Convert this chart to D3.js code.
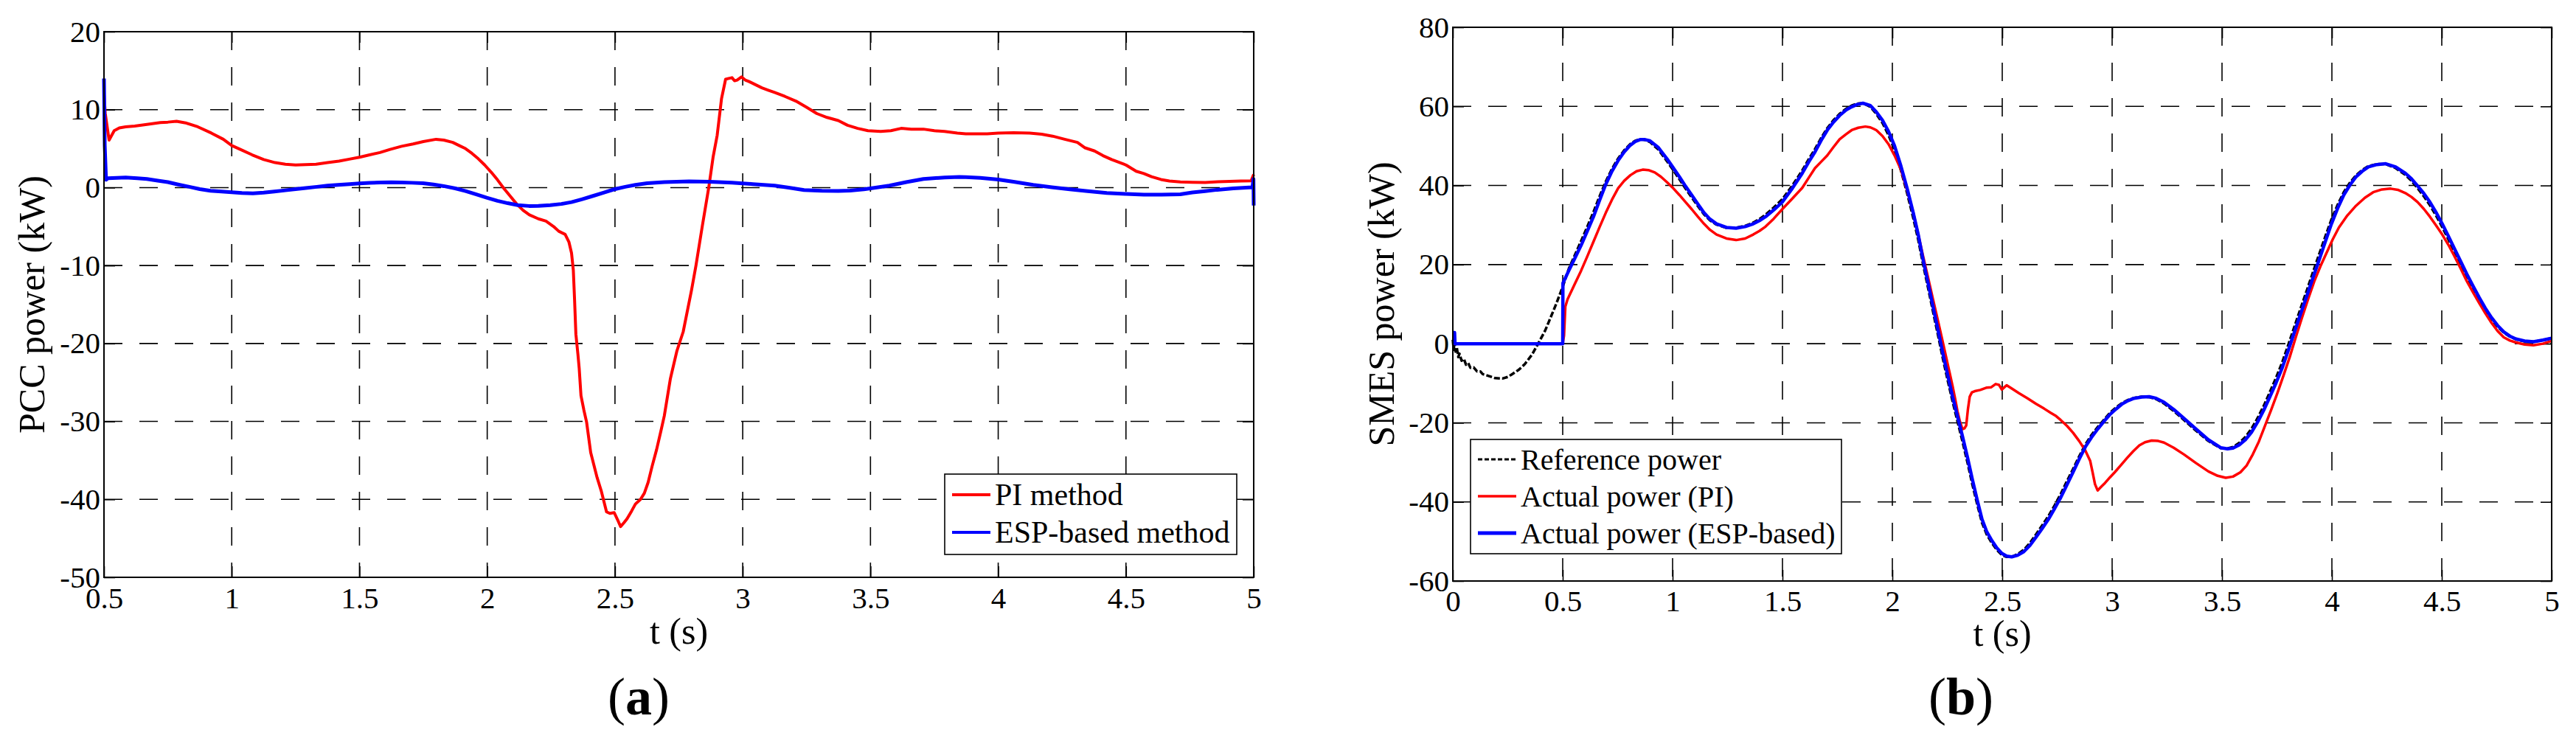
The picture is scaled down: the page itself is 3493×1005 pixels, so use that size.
<!DOCTYPE html>
<html lang="en">
<head>
    <meta charset="UTF-8"/>
    <title>PCC / SMES power</title>
    <script src="https://d3js.org/d3.v7.min.js"></script>
    <style>
        body { margin: 0; background: #fff; }
        text { font-family: "Liberation Serif", "Times New Roman", serif; fill: #000; }
        .grid line { stroke: #000; stroke-width: 1.6px; stroke-dasharray: 25,23; }
        .axis path { display: none; }
        .axis line { stroke: #000; stroke-width: 1.6px; }
        .axis text { font-size: 41px; }
    </style>
</head>
<body>
<div id="chart"></div>
<script>
    // ---- data, panel (a): PCC power ----
    const xTicksA = [0.5, 1, 1.5, 2, 2.5, 3, 3.5, 4, 4.5, 5];
    const yTicksA = [-50, -40, -30, -20, -10, 0, 10, 20];

    const piTimeA = [0.5, 0.505, 0.52, 0.54, 0.56, 0.585, 0.62, 0.668, 0.72, 0.75, 0.784, 0.82, 0.867, 0.92, 0.967,
        1.0, 1.04, 1.08, 1.125, 1.17, 1.21, 1.25, 1.29, 1.33, 1.375, 1.42, 1.46, 1.5, 1.54, 1.58, 1.62, 1.665,
        1.71, 1.75, 1.8, 1.83, 1.865, 1.89, 1.915, 1.94, 1.965, 1.99, 2.015, 2.04, 2.065, 2.09, 2.115, 2.14,
        2.165, 2.2, 2.23, 2.26, 2.28, 2.305, 2.32, 2.33, 2.337, 2.342, 2.347, 2.355, 2.36, 2.367, 2.378, 2.389,
        2.405, 2.43, 2.447, 2.467, 2.48, 2.497, 2.51, 2.522, 2.535, 2.547, 2.565, 2.58, 2.6, 2.615, 2.63, 2.645,
        2.663, 2.68, 2.693, 2.717, 2.742, 2.767, 2.8, 2.817, 2.842, 2.867, 2.884, 2.9, 2.917, 2.933, 2.945,
        2.958, 2.968, 2.978, 2.995, 3.01, 3.025, 3.05, 3.075, 3.1, 3.125, 3.165, 3.208, 3.25, 3.29, 3.33,
        3.374, 3.41, 3.45, 3.49, 3.54, 3.58, 3.62, 3.66, 3.707, 3.75, 3.79, 3.84, 3.873, 3.957, 4.0, 4.06,
        4.123, 4.17, 4.213, 4.26, 4.31, 4.34, 4.377, 4.41, 4.444, 4.5, 4.54, 4.57, 4.6, 4.637, 4.67, 4.713,
        4.76, 4.81, 4.86, 4.906, 4.95, 4.99, 5.0];
    const piPowerA = [12.0, 9.5, 6.1, 7.3, 7.65, 7.8, 7.9, 8.1, 8.35, 8.4, 8.5, 8.3, 7.8, 7.0, 6.2,
        5.4, 4.8, 4.2, 3.6, 3.2, 3.0, 2.9, 2.95, 3.0, 3.2, 3.4, 3.65, 3.9, 4.2, 4.5, 4.9, 5.3,
        5.6, 5.9, 6.2, 6.1, 5.8, 5.4, 5.0, 4.4, 3.7, 2.9, 2.0, 1.0, -0.1, -1.1, -2.1, -2.9,
        -3.5, -4.0, -4.3, -5.0, -5.6, -6.0, -7.0, -8.4, -10.6, -14.5, -18.8, -21.4, -23.2, -26.7, -28.5, -30.1,
        -34.0, -37.2, -39.0, -41.6, -41.8, -41.7, -42.6, -43.5, -43.0, -42.5, -41.5, -40.6, -40.0, -39.2, -37.8, -35.8,
        -33.6, -31.2, -29.3, -24.5, -21.0, -18.5, -13.1, -10.0, -4.9, 0.0, 3.9, 6.7, 11.4, 13.9, 14.0,
        14.1, 13.7, 13.8, 14.2, 13.8, 13.6, 13.2, 12.8, 12.5, 12.2, 11.7, 11.1, 10.3, 9.5, 9.0,
        8.6, 8.0, 7.6, 7.3, 7.2, 7.3, 7.6, 7.5, 7.5, 7.3, 7.2, 7.0, 6.9, 6.9, 7.0, 7.05,
        7.0, 6.85, 6.6, 6.2, 5.8, 5.1, 4.7, 4.1, 3.6, 2.9, 2.1, 1.8, 1.4, 1.04, 0.85, 0.73,
        0.68, 0.66, 0.75, 0.79, 0.85, 0.88, 1.7];

    const espTimeA = [0.5, 0.503, 0.508, 0.515, 0.55, 0.585, 0.63, 0.668, 0.71, 0.75, 0.79, 0.834, 0.875, 0.917,
        0.96, 1.0, 1.04, 1.083, 1.125, 1.167, 1.21, 1.25, 1.29, 1.333, 1.375, 1.416, 1.46, 1.5, 1.54, 1.582,
        1.625, 1.665, 1.705, 1.749, 1.79, 1.83, 1.875, 1.915, 1.955, 1.998, 2.04, 2.08, 2.12, 2.164, 2.2,
        2.247, 2.29, 2.33, 2.37, 2.414, 2.455, 2.497, 2.54, 2.58, 2.626, 2.693, 2.79, 2.87, 2.958, 3.04,
        3.125, 3.18, 3.24, 3.31, 3.374, 3.42, 3.474, 3.52, 3.574, 3.64, 3.707, 3.79, 3.848, 3.873, 3.93,
        4.0, 4.06, 4.137, 4.21, 4.28, 4.35, 4.425, 4.5, 4.57, 4.64, 4.713, 4.76, 4.81, 4.857, 4.92,
        4.995, 4.999, 5.0];
    const espPowerA = [14.0, 5.4, 1.0, 1.2, 1.25, 1.3, 1.2, 1.1, 0.9, 0.7, 0.4, 0.1, -0.2, -0.4,
        -0.5, -0.6, -0.7, -0.75, -0.65, -0.5, -0.35, -0.2, -0.05, 0.1, 0.25, 0.35, 0.45, 0.53, 0.6, 0.66,
        0.68, 0.66, 0.62, 0.57, 0.4, 0.19, -0.1, -0.44, -0.85, -1.3, -1.7, -2.0, -2.25, -2.36, -2.35,
        -2.26, -2.1, -1.86, -1.5, -1.07, -0.65, -0.22, 0.1, 0.35, 0.57, 0.7, 0.79, 0.75, 0.63, 0.45,
        0.25, 0.0, -0.31, -0.42, -0.44, -0.38, -0.22, 0.0, 0.25, 0.7, 1.1, 1.3, 1.36, 1.35, 1.25,
        1.04, 0.75, 0.35, 0.05, -0.22, -0.45, -0.69, -0.82, -0.91, -0.9, -0.85, -0.63, -0.45, -0.28, -0.1,
        0.03, 1.1, -2.3];

    // ---- data, panel (b): SMES power ----
    const xTicksB = [0, 0.5, 1, 1.5, 2, 2.5, 3, 3.5, 4, 4.5, 5];
    const yTicksB = [-60, -40, -20, 0, 20, 40, 60, 80];

    const refTimeB = [0, 0.004, 0.008, 0.012, 0.018, 0.025, 0.03, 0.04, 0.05, 0.06, 0.07, 0.08, 0.095, 0.11,
        0.125, 0.136, 0.16, 0.192, 0.226, 0.25, 0.27, 0.3, 0.327, 0.36, 0.388, 0.42, 0.438, 0.47, 0.5,
        0.528, 0.556, 0.584, 0.612, 0.64, 0.668, 0.696, 0.724, 0.752, 0.78, 0.808, 0.83, 0.852, 0.875, 0.897,
        0.935, 0.975, 1.0, 1.031, 1.059, 1.087, 1.115, 1.143, 1.17, 1.2, 1.245, 1.289, 1.33, 1.367, 1.395,
        1.423, 1.46, 1.499, 1.545, 1.59, 1.62, 1.648, 1.676, 1.704, 1.732, 1.76, 1.79, 1.815, 1.84, 1.866,
        1.9, 1.927, 1.955, 1.983, 2.01, 2.039, 2.067, 2.095, 2.118, 2.14, 2.163, 2.185, 2.208, 2.23, 2.252,
        2.274, 2.297, 2.319, 2.342, 2.364, 2.386, 2.408, 2.43, 2.453, 2.475, 2.498, 2.52, 2.543, 2.57, 2.598,
        2.626, 2.654, 2.682, 2.71, 2.738, 2.766, 2.794, 2.822, 2.85, 2.878, 2.906, 2.934, 2.962, 2.99, 3.018,
        3.046, 3.073, 3.1, 3.135, 3.169, 3.2, 3.236, 3.28, 3.327, 3.382, 3.438, 3.494, 3.525, 3.55, 3.578,
        3.606, 3.634, 3.662, 3.69, 3.718, 3.746, 3.774, 3.802, 3.83, 3.858, 3.886, 3.914, 3.942, 3.97, 3.998,
        4.026, 4.054, 4.082, 4.11, 4.138, 4.166, 4.205, 4.245, 4.29, 4.334, 4.362, 4.39, 4.418, 4.446, 4.474,
        4.502, 4.53, 4.558, 4.586, 4.614, 4.642, 4.67, 4.698, 4.726, 4.754, 4.782, 4.81, 4.838, 4.877, 4.917,
        4.96, 5.0];
    const refPowerB = [1.0, -1.5, 0.5, -2.0, -1.0, -3.4, -2.5, -4.3, -3.8, -5.3, -4.9, -6.1, -6.0, -7.0,
        -7.0, -7.7, -8.1, -8.7, -8.8, -8.4, -7.7, -6.6, -5.2, -2.8, 0.0, 3.3, 5.7, 10.0, 14.4,
        19.0, 22.5, 26.0, 29.6, 33.3, 37.3, 41.0, 44.2, 46.8, 48.9, 50.5, 51.3, 51.7, 51.5, 51.0,
        49.1, 46.1, 44.1, 41.6, 39.2, 37.0, 34.8, 32.7, 31.2, 30.1, 29.3, 29.3, 29.8, 30.6, 31.5,
        32.6, 34.4, 36.5, 40.0, 43.8, 46.7, 49.2, 52.0, 54.5, 56.5, 58.1, 59.4, 60.2, 60.7, 60.8,
        59.9, 58.1, 55.8, 52.7, 49.0, 43.8, 38.1, 31.8, 26.2, 20.0, 14.0, 8.1, 2.1, -3.8, -9.3,
        -14.6, -19.8, -24.7, -30.1, -35.6, -40.6, -45.3, -48.3, -50.4, -52.1, -53.4, -53.9, -53.9, -53.2, -52.1,
        -50.4, -48.2, -45.9, -43.6, -40.9, -38.0, -34.8, -31.7, -28.5, -25.5, -23.1, -21.1, -19.3, -17.5, -16.1,
        -15.0, -14.2, -13.7, -13.4, -13.5, -14.0, -15.1, -17.0, -19.3, -22.0, -24.6, -26.4, -26.5, -26.1, -25.1,
        -23.6, -21.5, -18.8, -15.7, -12.2, -8.6, -4.7, -0.2, 4.4, 9.0, 13.5, 18.1, 22.6, 27.1, 31.4,
        35.1, 38.3, 40.7, 42.6, 43.9, 44.9, 45.4, 45.4, 44.4, 42.7, 41.2, 39.3, 37.3, 35.0, 32.4,
        29.5, 26.4, 23.2, 20.0, 16.9, 13.9, 11.1, 8.5, 6.2, 4.3, 2.8, 1.8, 1.1, 0.6, 0.5,
        0.9, 1.4];

    const piTimeB = [0, 0.5, 0.506, 0.512, 0.522, 0.55, 0.584, 0.612, 0.64, 0.668, 0.696, 0.724, 0.752, 0.78,
        0.808, 0.836, 0.864, 0.89, 0.919, 0.947, 0.975, 1.003, 1.031, 1.059, 1.087, 1.115, 1.143, 1.17, 1.2,
        1.245, 1.289, 1.33, 1.367, 1.395, 1.423, 1.46, 1.499, 1.545, 1.59, 1.62, 1.648, 1.676, 1.704, 1.732,
        1.76, 1.79, 1.815, 1.845, 1.877, 1.9, 1.927, 1.955, 1.983, 2.01, 2.039, 2.067, 2.095, 2.118, 2.14,
        2.163, 2.185, 2.208, 2.23, 2.252, 2.274, 2.286, 2.296, 2.308, 2.319, 2.328, 2.336, 2.344, 2.352, 2.362,
        2.375, 2.4, 2.43, 2.45, 2.47, 2.485, 2.498, 2.51, 2.52, 2.545, 2.576, 2.615, 2.654, 2.69, 2.721,
        2.745, 2.766, 2.795, 2.822, 2.85, 2.878, 2.9, 2.911, 2.922, 2.934, 2.95, 2.968, 2.99, 3.012, 3.04,
        3.068, 3.096, 3.124, 3.15, 3.18, 3.21, 3.236, 3.28, 3.327, 3.382, 3.438, 3.48, 3.517, 3.55, 3.584,
        3.612, 3.64, 3.668, 3.696, 3.724, 3.752, 3.78, 3.808, 3.836, 3.864, 3.892, 3.92, 3.948, 3.976, 4.004,
        4.032, 4.07, 4.11, 4.15, 4.188, 4.228, 4.267, 4.3, 4.334, 4.362, 4.39, 4.418, 4.446, 4.474, 4.502,
        4.53, 4.558, 4.586, 4.614, 4.642, 4.67, 4.698, 4.726, 4.754, 4.782, 4.81, 4.838, 4.877, 4.917, 4.96,
        5.0];
    const piPowerB = [0.0, 0.0, 2.1, 9.4, 11.2, 14.5, 18.5, 22.1, 25.8, 29.5, 33.1, 36.4, 39.3, 41.2,
        42.6, 43.6, 44.0, 43.9, 43.3, 42.2, 40.8, 39.3, 37.6, 35.8, 34.0, 32.1, 30.3, 28.8, 27.6,
        26.6, 26.2, 26.6, 27.6, 28.5, 29.6, 31.6, 34.0, 36.7, 39.4, 42.0, 44.4, 46.0, 47.6, 49.7,
        51.7, 53.0, 54.0, 54.6, 54.9, 54.7, 54.0, 52.5, 50.4, 47.6, 44.0, 38.8, 33.1, 27.6, 22.1,
        16.6, 11.2, 5.7, 0.3, -5.2, -10.7, -14.0, -17.0, -19.8, -21.6, -21.4, -20.7, -16.5, -13.4, -12.3,
        -12.0, -11.7, -11.1, -11.0, -10.2, -10.4, -11.6, -11.0, -10.5, -11.4, -12.5, -13.8, -15.2, -16.4, -17.5,
        -18.3, -19.3, -20.8, -22.5, -24.6, -27.0, -29.6, -32.5, -35.5, -37.1, -36.2, -35.2, -33.8, -32.5, -30.7,
        -28.9, -27.2, -25.7, -24.9, -24.5, -24.6, -25.0, -26.3, -28.0, -30.2, -32.3, -33.4, -33.9, -33.6, -32.5,
        -30.8, -28.0, -24.7, -20.7, -16.7, -12.5, -8.0, -3.4, 1.7, 6.6, 11.3, 15.8, 19.6, 23.0, 26.4,
        29.4, 32.4, 34.9, 36.9, 38.3, 39.0, 39.2, 38.9, 38.1, 37.1, 35.8, 34.1, 32.1, 29.9, 27.6,
        25.0, 22.1, 19.0, 15.8, 13.0, 10.3, 7.7, 5.3, 3.2, 1.6, 0.8, 0.3, -0.2, -0.4, 0.0,
        0.7];

    const espTimeB = [0, 0.008, 0.01, 0.5, 0.501, 0.528, 0.556, 0.584, 0.612, 0.64, 0.668, 0.696, 0.724, 0.752,
        0.78, 0.808, 0.83, 0.852, 0.875, 0.897, 0.935, 0.975, 1.0, 1.031, 1.059, 1.087, 1.115, 1.143, 1.17,
        1.2, 1.245, 1.289, 1.33, 1.367, 1.395, 1.423, 1.46, 1.499, 1.545, 1.59, 1.62, 1.648, 1.676, 1.704,
        1.732, 1.76, 1.79, 1.815, 1.84, 1.866, 1.9, 1.927, 1.955, 1.983, 2.01, 2.039, 2.067, 2.095, 2.118,
        2.14, 2.163, 2.185, 2.208, 2.23, 2.252, 2.274, 2.297, 2.319, 2.342, 2.364, 2.386, 2.408, 2.43, 2.453,
        2.475, 2.498, 2.52, 2.543, 2.57, 2.598, 2.626, 2.654, 2.682, 2.71, 2.738, 2.766, 2.794, 2.822, 2.85,
        2.878, 2.906, 2.934, 2.962, 2.99, 3.018, 3.046, 3.073, 3.1, 3.135, 3.169, 3.2, 3.236, 3.28, 3.327,
        3.382, 3.438, 3.494, 3.525, 3.55, 3.578, 3.606, 3.634, 3.662, 3.69, 3.718, 3.746, 3.774, 3.802, 3.83,
        3.858, 3.886, 3.914, 3.942, 3.97, 3.998, 4.026, 4.054, 4.082, 4.11, 4.138, 4.166, 4.205, 4.245, 4.29,
        4.334, 4.362, 4.39, 4.418, 4.446, 4.474, 4.502, 4.53, 4.558, 4.586, 4.614, 4.642, 4.67, 4.698, 4.726,
        4.754, 4.782, 4.81, 4.838, 4.877, 4.917, 4.96, 5.0];
    const espPowerB = [2.8, 2.8, 0.0, 0.0, 15.3, 18.5, 21.7, 24.9, 28.5, 32.1, 36.3, 40.3, 43.6, 46.3,
        48.5, 50.2, 51.1, 51.6, 51.6, 51.3, 49.6, 46.7, 44.7, 42.2, 39.8, 37.6, 35.3, 33.1, 31.5,
        30.3, 29.4, 29.2, 29.6, 30.3, 31.1, 32.1, 33.8, 35.8, 39.3, 43.1, 46.0, 48.5, 51.4, 54.0,
        56.0, 57.7, 59.1, 59.9, 60.5, 60.8, 60.2, 58.6, 56.5, 53.6, 50.0, 44.9, 39.3, 33.1, 27.5,
        21.2, 15.2, 9.4, 3.4, -2.5, -8.0, -13.4, -18.5, -23.4, -28.8, -34.3, -39.5, -44.4, -47.6, -49.8,
        -51.6, -53.0, -53.7, -53.9, -53.5, -52.6, -51.0, -48.9, -46.7, -44.4, -41.7, -38.9, -35.7, -32.5, -29.2,
        -26.1, -23.7, -21.6, -19.7, -17.9, -16.5, -15.2, -14.4, -13.8, -13.5, -13.4, -13.8, -14.8, -16.6, -18.9,
        -21.6, -24.3, -26.3, -26.6, -26.4, -25.6, -24.3, -22.4, -19.8, -16.8, -13.4, -9.9, -6.1, -1.6, 3.0,
        7.6, 12.1, 16.7, 21.2, 25.8, 30.3, 34.2, 37.6, 40.1, 42.2, 43.6, 44.7, 45.3, 45.5, 44.7,
        43.1, 41.7, 39.9, 38.0, 35.8, 33.2, 30.3, 27.2, 24.0, 20.8, 17.6, 14.6, 11.7, 9.0, 6.6,
        4.6, 3.0, 1.9, 1.2, 0.7, 0.5, 0.9, 1.4];

    const legendA = ["PI method", "ESP-based method"];
    const legendB = ["Reference power", "Actual power (PI)", "Actual power (ESP-based)"];

    // ---- drawing ----
    const svg = d3.select("#chart")
        .append("svg")
        .attr("width", 3493)
        .attr("height", 1005)
        .style("background", "#fff");

    function zip(ts, vs) {
        return ts.map(function(t, i) { return {t: t, v: vs[i]}; });
    }

    function drawPanel(p) {
        const x = d3.scaleLinear().domain(p.xDomain).range([p.left, p.right]);
        const y = d3.scaleLinear().domain(p.yDomain).range([p.bottom, p.top]);
        const g = svg.append("g");

        // dashed grid
        const grid = g.append("g").attr("class", "grid");
        grid.selectAll(".gx").data(p.xTicks.slice(1, -1)).enter().append("line")
            .attr("x1", d => x(d)).attr("x2", d => x(d))
            .attr("y1", p.top).attr("y2", p.bottom);
        grid.selectAll(".gy").data(p.yTicks.slice(1, -1)).enter().append("line")
            .attr("x1", p.left).attr("x2", p.right)
            .attr("y1", d => y(d)).attr("y2", d => y(d));

        // axes with inward ticks on all four sides
        const tick = 15;
        const fmt = d => String(d);
        g.append("g").attr("class", "axis")
            .attr("transform", "translate(0," + p.bottom + ")")
            .call(d3.axisBottom(x).tickValues(p.xTicks).tickFormat(fmt)
                .tickSizeInner(-tick).tickSizeOuter(0).tickPadding(p.xPad));
        g.append("g").attr("class", "axis")
            .attr("transform", "translate(0," + p.top + ")")
            .call(d3.axisTop(x).tickValues(p.xTicks).tickFormat("")
                .tickSizeInner(-tick).tickSizeOuter(0));
        g.append("g").attr("class", "axis")
            .attr("transform", "translate(" + p.left + ",0)")
            .call(d3.axisLeft(y).tickValues(p.yTicks).tickFormat(fmt)
                .tickSizeInner(-tick).tickSizeOuter(0).tickPadding(5));
        g.append("g").attr("class", "axis")
            .attr("transform", "translate(" + p.right + ",0)")
            .call(d3.axisRight(y).tickValues(p.yTicks).tickFormat("")
                .tickSizeInner(-tick).tickSizeOuter(0));

        // series
        const line = d3.line().x(d => x(d.t)).y(d => y(d.v));
        p.series.forEach(function(s) {
            g.append("path")
                .datum(zip(s.t, s.v))
                .attr("fill", "none")
                .attr("stroke", s.color)
                .attr("stroke-width", s.width)
                .attr("stroke-dasharray", s.dash || null)
                .attr("stroke-linejoin", "round")
                .attr("d", line);
        });

        // box
        g.append("rect")
            .attr("x", p.left).attr("y", p.top)
            .attr("width", p.right - p.left).attr("height", p.bottom - p.top)
            .attr("fill", "none").attr("stroke", "#000").attr("stroke-width", 2);

        // legend
        const lg = p.legend;
        g.append("rect")
            .attr("x", lg.x).attr("y", lg.y).attr("width", lg.w).attr("height", lg.h)
            .attr("fill", "#fff").attr("stroke", "#000").attr("stroke-width", 1.6);
        lg.labels.forEach(function(label, i) {
            const s = p.series[lg.order[i]];
            const ly = lg.y + lg.first + i * lg.step;
            g.append("line")
                .attr("x1", lg.x + 10).attr("x2", lg.x + 62)
                .attr("y1", ly).attr("y2", ly)
                .attr("stroke", s.color)
                .attr("stroke-width", s.legendWidth)
                .attr("stroke-dasharray", s.dash ? "6,3" : null);
            g.append("text")
                .attr("x", lg.x + 68).attr("y", ly + lg.font * 0.34)
                .style("font-size", lg.font + "px")
                .text(label);
        });

        // axis labels
        g.append("text")
            .attr("transform", "translate(" + p.yLabelX + "," + (p.top + p.bottom) / 2 + ") rotate(-90)")
            .attr("text-anchor", "middle")
            .style("font-size", "50px")
            .text(p.yLabel);
        g.append("text")
            .attr("x", (p.left + p.right) / 2).attr("y", p.xLabelY)
            .attr("text-anchor", "middle")
            .style("font-size", "50px")
            .text("t (s)");

        const cap = g.append("text")
            .attr("x", p.capX).attr("y", 969)
            .attr("text-anchor", "middle")
            .style("font-size", "72px");
        cap.append("tspan").text("(");
        cap.append("tspan").style("font-weight", "bold").text(p.cap);
        cap.append("tspan").text(")");
    }

    drawPanel({
        xDomain: [0.5, 5], yDomain: [-50, 20],
        left: 141, right: 1700, top: 43, bottom: 783,
        xTicks: xTicksA, yTicks: yTicksA, xPad: 13,
        series: [
            {t: piTimeA, v: piPowerA, color: "#ff0000", width: 4, legendWidth: 4},
            {t: espTimeA, v: espPowerA, color: "#0000ff", width: 5, legendWidth: 4}
        ],
        legend: {x: 1281, y: 643, w: 396, h: 109, first: 28, step: 51, font: 42,
            labels: legendA, order: [0, 1]},
        yLabel: "PCC power (kW)", yLabelX: 60, xLabelY: 873,
        cap: "a", capX: 866
    });

    drawPanel({
        xDomain: [0, 5], yDomain: [-60, 80],
        left: 1970, right: 3460, top: 37, bottom: 788,
        xTicks: xTicksB, yTicks: yTicksB, xPad: 12,
        series: [
            {t: refTimeB, v: refPowerB, color: "#000000", width: 3.5, dash: "8,3", legendWidth: 3},
            {t: piTimeB, v: piPowerB, color: "#ff0000", width: 3.5, legendWidth: 3.5},
            {t: espTimeB, v: espPowerB, color: "#0000ff", width: 4.5, legendWidth: 5}
        ],
        legend: {x: 1994, y: 596, w: 503, h: 155, first: 27, step: 50, font: 40,
            labels: legendB, order: [0, 1, 2]},
        yLabel: "SMES power (kW)", yLabelX: 1890, xLabelY: 876,
        cap: "b", capX: 2659
    });
</script>
</body>
</html>
